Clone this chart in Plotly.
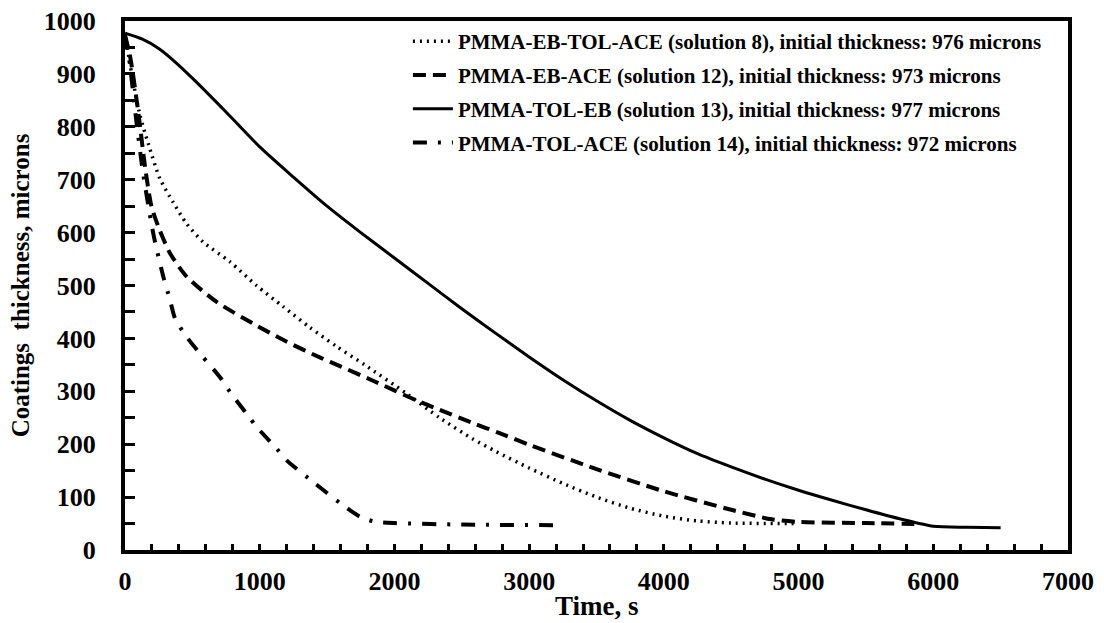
import plotly.graph_objects as go

# Time (s) and coating thickness (microns) for each solution
t_sol8 = [0, 50, 111, 173, 259, 358, 457, 581, 778, 976, 1174, 1371, 1569, 1779, 2088, 2335, 2582, 2755, 3000, 3250, 3500, 3750, 4000, 4250, 4500, 5000]
h_sol8 = [976, 900, 822, 768, 702, 657, 617, 582, 545, 500, 460, 421, 385, 350, 296, 250, 210, 186, 155, 126, 100, 79, 64, 55, 51, 50]

t_sol12 = [0, 40, 100, 150, 198, 259, 334, 457, 680, 951, 1198, 1446, 1600, 1841, 2162, 2335, 2582, 2780, 3000, 3500, 4000, 4500, 4800, 5000, 5500, 5900]
h_sol12 = [973, 930, 825, 722, 648, 604, 561, 517, 469, 428, 394, 364, 347, 320, 283, 265, 240, 221, 199, 153, 111, 76, 58, 53, 51, 49]

t_sol13 = [0, 125, 250, 375, 500, 750, 1000, 1250, 1500, 1750, 2000, 2250, 2500, 2750, 3000, 3250, 3500, 3750, 4000, 4250, 4500, 4750, 5000, 5250, 5500, 5750, 6000, 6250, 6500]
h_sol13 = [977, 966, 948, 922, 892, 828, 762, 705, 650, 600, 552, 504, 456, 410, 365, 322, 282, 245, 212, 182, 157, 134, 113, 94, 76, 59, 45, 43, 42]

t_sol14 = [0, 30, 80, 130, 210, 284, 334, 371, 457, 568, 704, 778, 902, 976, 1124, 1198, 1400, 1600, 1750, 1850, 2000, 2500, 3200]
h_sol14 = [972, 930, 820, 720, 598, 517, 473, 438, 403, 368, 327, 299, 258, 233, 192, 170, 128, 88, 62, 54, 51, 48, 47]

names = [
    "PMMA-EB-TOL-ACE (solution 8), initial thickness: 976 microns",
    "PMMA-EB-ACE (solution 12), initial thickness: 973 microns",
    "PMMA-TOL-EB (solution 13), initial thickness: 977 microns",
    "PMMA-TOL-ACE (solution 14), initial thickness: 972 microns",
]

FONT = "Liberation Serif"

series = [
    (t_sol8, h_sol8, dict(color="black", width=3.5, dash="2px,5px")),
    (t_sol12, h_sol12, dict(color="black", width=4, dash="13px,7px")),
    (t_sol13, h_sol13, dict(color="black", width=3)),
    (t_sol14, h_sol14, dict(color="black", width=4, dash="14px,11px,3px,11px")),
]

fig = go.Figure()
for i, ((t, h, line), name) in enumerate(zip(series, names)):
    fig.add_trace(go.Scatter(
        x=t, y=h, mode="lines", name=name,
        line=dict(shape="spline", smoothing=0.7, **line),
        legendgroup=f"g{i}",
    ))

axis_common = dict(
    showgrid=False, zeroline=False, automargin=False,
    showline=True, linecolor="black", linewidth=4, mirror=True,
    ticks="inside", tickwidth=3, tickcolor="black",
    tickfont=dict(family=FONT, size=26, color="black", weight="bold"),
)

fig.update_xaxes(
    range=[0, 7000], dtick=1000, ticklen=6, ticklabelstandoff=5,
    minor=dict(dtick=200, ticks="inside", ticklen=6, tickwidth=3, tickcolor="black"),
    **axis_common,
)
fig.update_yaxes(
    range=[0, 1000], dtick=100, ticklen=10, ticklabelstandoff=20,
    minor=dict(dtick=50, ticks="inside", ticklen=10, tickwidth=3, tickcolor="black"),
    title=dict(text="Coatings  thickness, microns", font=dict(family=FONT, size=25, color="black", weight="bold"), standoff=8),
    **axis_common,
)

# x-axis title placed just under the tick labels
fig.add_annotation(
    text="Time, s", xref="paper", yref="paper", x=0.5, y=0, yshift=-56,
    xanchor="center", yanchor="middle", showarrow=False,
    font=dict(family=FONT, size=27, color="black", weight="bold"),
)

fig.update_layout(
    width=1104, height=623,
    margin=dict(l=125, r=36, t=21, b=73),
    plot_bgcolor="white", paper_bgcolor="white",
    showlegend=True,
    legend=dict(
        x=0.300, y=1.0, xanchor="left", yanchor="top",
        bgcolor="rgba(0,0,0,0)", itemwidth=40, tracegroupgap=3.5,
        font=dict(family=FONT, size=21, color="black", weight="bold"),
    ),
)

fig.write_html("out.html")
